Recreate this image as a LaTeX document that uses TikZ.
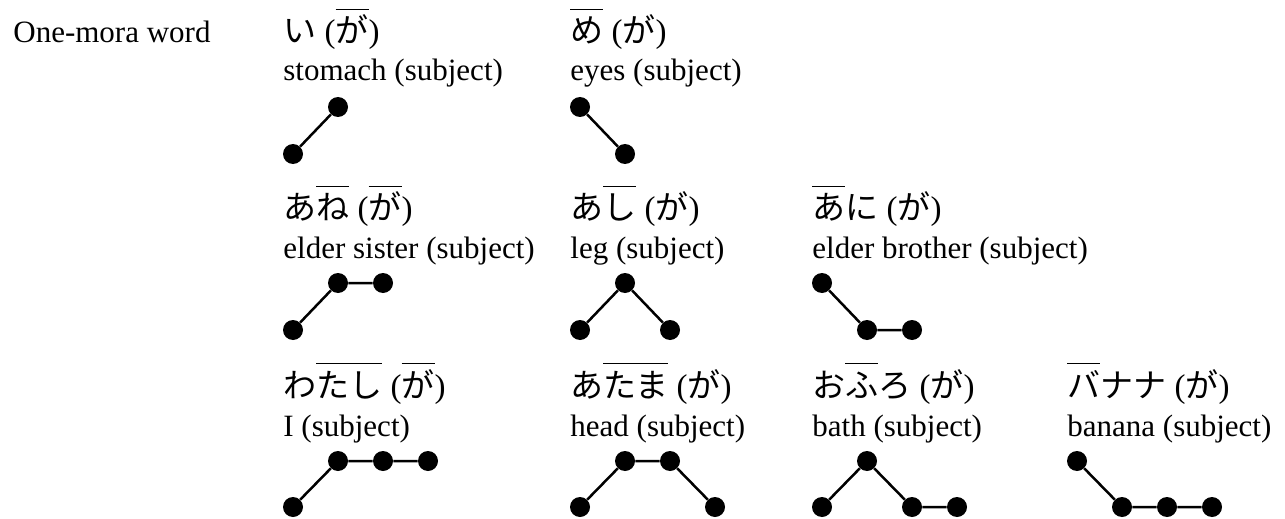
\documentclass[tikz,border=0pt]{standalone}
\usepackage{fontspec}
\setmainfont{Liberation Serif}
\newfontfamily\jpfont{Noto Sans CJK JP}
\newcommand{\jw}[1]{{\jpfont #1}}
\newcommand{\hi}[1]{\setbox0\hbox{#1}\rlap{\rule[16.5pt]{\wd0}{0.6pt}}\box0\relax}

\begin{document}
\begin{tikzpicture}[x=0.5pt,y=-0.5pt,
        txt/.style={anchor=base west,inner sep=0pt,font=\fontsize{15.5}{18}\selectfont},
        word/.style={txt,font=\fontsize{16.5}{18}\selectfont},
        mora/.style={circle,fill=black,inner sep=0pt,minimum size=10pt},
        pitch/.style={line width=1.25pt}]
        \useasboundingbox (0,0) rectangle (1285,519);
        % row 1
        \node[txt] (title) at (13,43) {One-mora word};
        \node[word] (w-i) at (283,43) {\jw{い} (\hi{\jw{が}})};
        \node[txt] (g-i) at (283,81) {stomach (subject)};
        \node[mora] (i1) at (293,154) {};
        \node[mora] (i2) at (338,107) {};
        \draw[pitch] (i1) -- (i2);
        \node[word] (w-me) at (570,43) {\hi{\jw{め}} (\jw{が})};
        \node[txt] (g-me) at (570,81) {eyes (subject)};
        \node[mora] (me1) at (580,107) {};
        \node[mora] (me2) at (625,154) {};
        \draw[pitch] (me1) -- (me2);
        % row 2
        \node[word] (w-ane) at (283,220) {\jw{あ}\hi{\jw{ね}} (\hi{\jw{が}})};
        \node[txt] (g-ane) at (283,258) {elder sister (subject)};
        \node[mora] (ane1) at (293,330) {};
        \node[mora] (ane2) at (338,283) {};
        \node[mora] (ane3) at (383,283) {};
        \draw[pitch] (ane1) -- (ane2) -- (ane3);
        \node[word] (w-ashi) at (570,220) {\jw{あ}\hi{\jw{し}} (\jw{が})};
        \node[txt] (g-ashi) at (570,258) {leg (subject)};
        \node[mora] (ashi1) at (580,330) {};
        \node[mora] (ashi2) at (625,283) {};
        \node[mora] (ashi3) at (670,330) {};
        \draw[pitch] (ashi1) -- (ashi2) -- (ashi3);
        \node[word] (w-ani) at (812,220) {\hi{\jw{あ}}\jw{に} (\jw{が})};
        \node[txt] (g-ani) at (812,258) {elder brother (subject)};
        \node[mora] (ani1) at (822,283) {};
        \node[mora] (ani2) at (867,330) {};
        \node[mora] (ani3) at (912,330) {};
        \draw[pitch] (ani1) -- (ani2) -- (ani3);
        % row 3
        \node[word] (w-watashi) at (283,397) {\jw{わ}\hi{\jw{たし}} (\hi{\jw{が}})};
        \node[txt] (g-watashi) at (283,436) {I (subject)};
        \node[mora] (wa1) at (293,507) {};
        \node[mora] (wa2) at (338,461) {};
        \node[mora] (wa3) at (383,461) {};
        \node[mora] (wa4) at (428,461) {};
        \draw[pitch] (wa1) -- (wa2) -- (wa3) -- (wa4);
        \node[word] (w-atama) at (570,397) {\jw{あ}\hi{\jw{たま}} (\jw{が})};
        \node[txt] (g-atama) at (570,436) {head (subject)};
        \node[mora] (at1) at (580,507) {};
        \node[mora] (at2) at (625,461) {};
        \node[mora] (at3) at (670,461) {};
        \node[mora] (at4) at (715,507) {};
        \draw[pitch] (at1) -- (at2) -- (at3) -- (at4);
        \node[word] (w-ofuro) at (812,397) {\jw{お}\hi{\jw{ふ}}\jw{ろ} (\jw{が})};
        \node[txt] (g-ofuro) at (812,436) {bath (subject)};
        \node[mora] (of1) at (822,507) {};
        \node[mora] (of2) at (867,461) {};
        \node[mora] (of3) at (912,507) {};
        \node[mora] (of4) at (957,507) {};
        \draw[pitch] (of1) -- (of2) -- (of3) -- (of4);
        \node[word] (w-banana) at (1067,397) {\hi{\jw{バ}}\jw{ナナ} (\jw{が})};
        \node[txt] (g-banana) at (1067,436) {banana (subject)};
        \node[mora] (ba1) at (1077,461) {};
        \node[mora] (ba2) at (1122,507) {};
        \node[mora] (ba3) at (1167,507) {};
        \node[mora] (ba4) at (1212,507) {};
        \draw[pitch] (ba1) -- (ba2) -- (ba3) -- (ba4);
\end{tikzpicture}
\end{document}
